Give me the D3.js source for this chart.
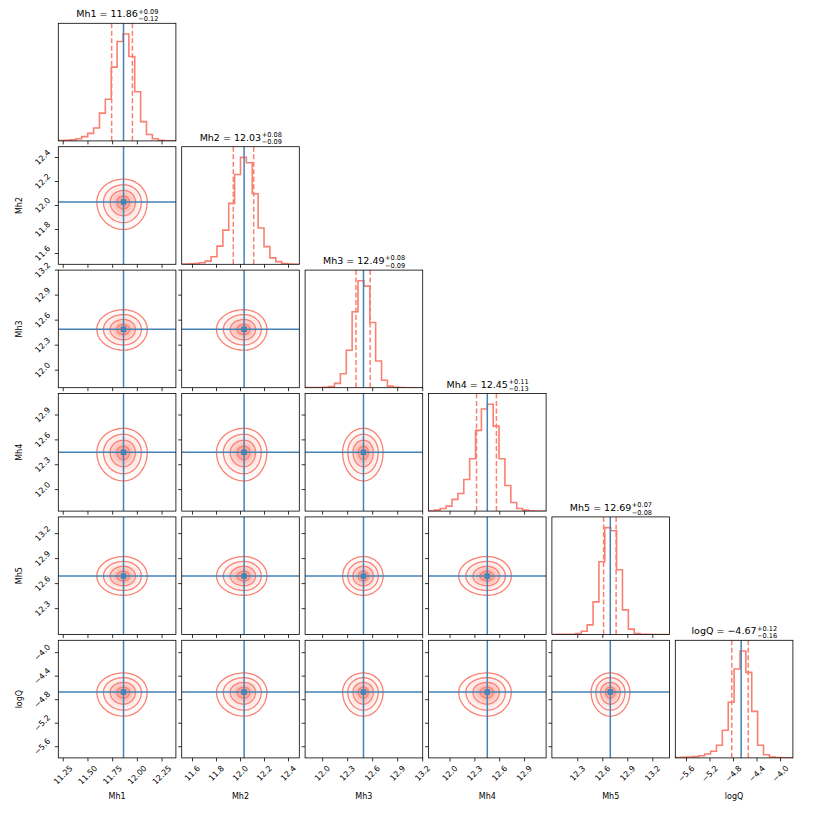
<!DOCTYPE html>
<html>
<head>
<meta charset="utf-8">
<script src="https://cdn.jsdelivr.net/npm/d3@7"></script>
<style>
  body { margin: 0; background: #fff; }
  text { font-family: "DejaVu Sans", sans-serif; fill: #000; }
</style>
</head>
<body>
<div id="corner"></div>
<script>
const params = ["Mh1", "Mh2", "Mh3", "Mh4", "Mh5", "logQ"]
const medians = [11.86, 12.03, 12.49, 12.45, 12.69, -4.67]
const errPlus = [0.09, 0.08, 0.08, 0.11, 0.07, 0.12]
const errMinus = [0.12, 0.09, 0.09, 0.13, 0.08, 0.16]
const ranges = [[11.20, 12.39], [11.51, 12.49], [11.79, 13.20], [11.74, 13.16], [11.99, 13.40], [-5.79, -3.79]]
const ticks = [
    [11.25, 11.50, 11.75, 12.00, 12.25],
    [11.6, 11.8, 12.0, 12.2, 12.4],
    [12.0, 12.3, 12.6, 12.9, 13.2],
    [12.0, 12.3, 12.6, 12.9],
    [12.3, 12.6, 12.9, 13.2],
    [-5.6, -5.2, -4.8, -4.4, -4.0]
]
const tickDigits = [2, 1, 1, 1, 1, 1]

// 20-bin marginal histograms (relative heights)
const histMh1 = [0.003, 0.005, 0.01, 0.02, 0.04, 0.07, 0.12, 0.26, 0.39, 0.69, 0.93, 1.0, 0.79, 0.46, 0.18, 0.06, 0.02, 0.005, 0.002, 0.001]
const histMh2 = [0.002, 0.004, 0.008, 0.015, 0.03, 0.07, 0.17, 0.32, 0.57, 0.84, 1.0, 0.95, 0.66, 0.34, 0.165, 0.06, 0.025, 0.008, 0.003, 0.001]
const histMh3 = [0.001, 0.001, 0.002, 0.004, 0.01, 0.04, 0.13, 0.35, 0.71, 1.0, 0.95, 0.61, 0.25, 0.07, 0.015, 0.003, 0.001, 0, 0, 0]
const histMh4 = [0.003, 0.009, 0.025, 0.047, 0.11, 0.165, 0.295, 0.49, 0.755, 0.955, 1.0, 0.795, 0.49, 0.24, 0.08, 0.025, 0.009, 0.003, 0.001, 0.001]
const histMh5 = [0, 0.001, 0.001, 0.002, 0.008, 0.03, 0.09, 0.305, 0.68, 1.0, 0.97, 0.605, 0.23, 0.05, 0.01, 0.003, 0.001, 0, 0, 0]
const histLogQ = [0.003, 0.005, 0.008, 0.012, 0.02, 0.037, 0.062, 0.118, 0.258, 0.52, 0.832, 1.0, 0.80, 0.435, 0.118, 0.03, 0.009, 0.003, 0.001, 0]
const hists = [histMh1, histMh2, histMh3, histMh4, histMh5, histLogQ]

// outer (2 sigma) contour reach below / above the median
const contourLo = [0.27, 0.23, 0.25, 0.345, 0.23, 0.41]
const contourHi = [0.24, 0.19, 0.235, 0.29, 0.235, 0.325]
const levels = [0.5, 1.0, 1.5, 2.0]

const color = "salmon"
const truthColor = "#4682b4"

const corner = function (id) {
    const width = 817
    const height = 817
    const left0 = 58.3, top0 = 23.3, size = 117.6, step = 123.4
    const n = params.length

    const svg = d3.select("#" + id)
        .append("svg")
        .attr("width", width)
        .attr("height", height)

    const xScale = i => d3.scaleLinear().domain(ranges[i]).range([0, size])
    const yScale = i => d3.scaleLinear().domain(ranges[i]).range([size, 0])
    const fmt = i => v => d3.format("." + tickDigits[i] + "f")(v).replace("-", "\u2212")

    const rotLabel = function (g, str, x, y, side) {
        const t = g.append("text")
            .attr("font-size", 8)
            .attr("text-anchor", "middle")
            .attr("dominant-baseline", "central")
            .text(str)
        const half = (t.node().getComputedTextLength() + 6) / (2 * Math.SQRT2)
        const cx = side === "bottom" ? x : x - 7 - half
        const cy = side === "bottom" ? y + 7 + half : y
        t.attr("transform", `translate(${cx},${cy}) rotate(-45)`)
    }

    const shape = function (j, i, r, xs, ys) {
        const pts = d3.range(0, 96).map(k => {
            const a = k / 96 * 2 * Math.PI
            const c = Math.cos(a), s = Math.sin(a)
            const dx = r / 2 * c * (c >= 0 ? contourHi[j] : contourLo[j])
            const dy = r / 2 * s * (s >= 0 ? contourHi[i] : contourLo[i])
            return [xs(medians[j] + dx), ys(medians[i] + dy)]
        })
        return d3.line().curve(d3.curveLinearClosed)(pts)
    }

    for (let i = 0; i < n; i++) {
        for (let j = 0; j <= i; j++) {
            const g = svg.append("g")
                .attr("transform", `translate(${left0 + j * step},${top0 + i * step})`)
            const xs = xScale(j)
            const clipId = `clip-${i}-${j}`
            g.append("clipPath").attr("id", clipId)
                .append("rect").attr("width", size).attr("height", size)
            const body = g.append("g").attr("clip-path", `url(#${clipId})`)

            if (i === j) {
                const h = hists[i]
                const bw = (ranges[i][1] - ranges[i][0]) / h.length
                const ys = d3.scaleLinear().domain([0, 1.1 * d3.max(h)]).range([size, 0])
                const pts = [[ranges[i][0], 0]]
                h.forEach((v, k) => {
                    pts.push([ranges[i][0] + k * bw, v])
                    pts.push([ranges[i][0] + (k + 1) * bw, v])
                })
                pts.push([ranges[i][1], 0])
                body.append("path")
                    .attr("d", d3.line().x(d => xs(d[0])).y(d => ys(d[1]))(pts))
                    .attr("fill", "none")
                    .attr("stroke", color)
                    .attr("stroke-width", 1.6)
                body.selectAll("line.q")
                    .data([medians[i] - errMinus[i], medians[i] + errPlus[i]])
                    .enter().append("line")
                    .attr("x1", d => xs(d)).attr("x2", d => xs(d))
                    .attr("y1", 0).attr("y2", size)
                    .attr("stroke", color)
                    .attr("stroke-width", 1.5)
                    .attr("stroke-dasharray", "5,2.5")
                body.append("line")
                    .attr("x1", xs(medians[i])).attr("x2", xs(medians[i]))
                    .attr("y1", 0).attr("y2", size)
                    .attr("stroke", truthColor)
                    .attr("stroke-width", 1.5)

                // title with asymmetric errors
                const title = g.append("g")
                const main = title.append("text")
                    .attr("font-size", 9.5)
                    .attr("y", -6)
                    .text(`${params[i]} = ${d3.format(".2f")(medians[i]).replace("-", "\u2212")}`)
                const wm = main.node().getComputedTextLength()
                const sup = title.append("text")
                    .attr("font-size", 6.6).attr("x", wm + 0.5).attr("y", -9.8)
                    .text("+" + d3.format(".2f")(errPlus[i]))
                const sub = title.append("text")
                    .attr("font-size", 6.6).attr("x", wm + 0.5).attr("y", -2.3)
                    .text("\u2212" + d3.format(".2f")(errMinus[i]))
                const ws = Math.max(sup.node().getComputedTextLength(), sub.node().getComputedTextLength())
                title.attr("transform", `translate(${(size - wm - ws) / 2},0)`)
            } else {
                const ys = yScale(i)
                const densColor = d3.interpolateRgb("#ffffff", color)
                d3.range(20, 0, -1).forEach(k => {
                    const r = k / 10
                    body.append("path")
                        .attr("d", shape(j, i, r, xs, ys))
                        .attr("fill", densColor(0.8 * Math.exp(-r * r)))
                })
                levels.forEach(r => {
                    body.append("path")
                        .attr("d", shape(j, i, r, xs, ys))
                        .attr("fill", "none")
                        .attr("stroke", color)
                        .attr("stroke-width", 1.3)
                })
                body.append("line")
                    .attr("x1", xs(medians[j])).attr("x2", xs(medians[j]))
                    .attr("y1", 0).attr("y2", size)
                    .attr("stroke", truthColor).attr("stroke-width", 1.5)
                body.append("line")
                    .attr("x1", 0).attr("x2", size)
                    .attr("y1", ys(medians[i])).attr("y2", ys(medians[i]))
                    .attr("stroke", truthColor).attr("stroke-width", 1.5)
                body.append("rect")
                    .attr("x", xs(medians[j]) - 2.7).attr("y", ys(medians[i]) - 2.7)
                    .attr("width", 5.4).attr("height", 5.4)
                    .attr("fill", truthColor)

                // left ticks
                ticks[i].filter(t => t >= ranges[i][0] && t <= ranges[i][1]).forEach(t => {
                    g.append("line")
                        .attr("x1", -3.5).attr("x2", 0)
                        .attr("y1", ys(t)).attr("y2", ys(t))
                        .attr("stroke", "#000").attr("stroke-width", 0.8)
                    if (j === 0) rotLabel(g, fmt(i)(t), 0, ys(t), "left")
                })
                if (j === 0) {
                    g.append("text")
                        .attr("font-size", 8)
                        .attr("text-anchor", "middle")
                        .attr("transform", `translate(${22 - left0},${size / 2}) rotate(-90)`)
                        .text(params[i])
                }
            }

            // bottom ticks
            ticks[j].filter(t => t >= ranges[j][0] - 1e-9 && t <= ranges[j][1] + 1e-9).forEach(t => {
                g.append("line")
                    .attr("x1", xs(t)).attr("x2", xs(t))
                    .attr("y1", size).attr("y2", size + 3.5)
                    .attr("stroke", "#000").attr("stroke-width", 0.8)
                if (i === n - 1) rotLabel(g, fmt(j)(t), xs(t), size, "bottom")
            })
            if (i === n - 1) {
                g.append("text")
                    .attr("font-size", 8)
                    .attr("text-anchor", "middle")
                    .attr("x", size / 2)
                    .attr("y", 799 - (top0 + i * step))
                    .text(params[j])
            }

            g.append("rect")
                .attr("width", size).attr("height", size)
                .attr("fill", "none")
                .attr("stroke", "#000")
                .attr("stroke-width", 0.8)
        }
    }
}

corner("corner")
</script>
</body>
</html>
